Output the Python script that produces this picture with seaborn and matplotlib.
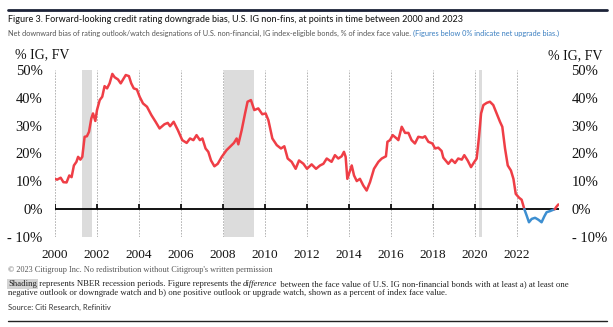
import numpy as np
import pandas as pd
import matplotlib
matplotlib.use("Agg")
import matplotlib.pyplot as plt
import seaborn as sns
from matplotlib.lines import Line2D

# ---------------- data ----------------
years = [2000.00, 2000.10, 2000.27, 2000.40, 2000.55, 2000.68, 2000.79, 2000.90, 2001.02, 2001.10,
         2001.21, 2001.30, 2001.41, 2001.52, 2001.62, 2001.73, 2001.81, 2001.92, 2002.00, 2002.13,
         2002.25, 2002.36, 2002.48, 2002.60, 2002.73, 2002.84, 2003.00, 2003.13, 2003.24, 2003.37,
         2003.52, 2003.63, 2003.75, 2003.90, 2004.03, 2004.19, 2004.38, 2004.59, 2004.79, 2004.98,
         2005.21, 2005.37, 2005.48, 2005.65, 2005.85, 2006.06, 2006.27, 2006.43, 2006.59, 2006.74,
         2006.90, 2007.02, 2007.17, 2007.30, 2007.43, 2007.59, 2007.75, 2007.94, 2008.17, 2008.41,
         2008.52, 2008.65, 2008.73, 2008.89, 2009.05, 2009.17, 2009.33, 2009.49, 2009.68, 2009.87,
         2010.03, 2010.16, 2010.35, 2010.56, 2010.76, 2010.92, 2011.08, 2011.27, 2011.46, 2011.62,
         2011.83, 2012.00, 2012.22, 2012.43, 2012.62, 2012.78, 2012.94, 2013.17, 2013.33, 2013.49,
         2013.65, 2013.76, 2013.84, 2013.92, 2014.05, 2014.13, 2014.24, 2014.37, 2014.52, 2014.68,
         2014.84, 2015.00, 2015.19, 2015.40, 2015.56, 2015.76, 2015.83, 2015.95, 2016.08, 2016.27,
         2016.35, 2016.51, 2016.67, 2016.83, 2016.98, 2017.14, 2017.30, 2017.51, 2017.62, 2017.78,
         2017.97, 2018.10, 2018.25, 2018.41, 2018.49, 2018.60, 2018.73, 2018.89, 2019.05, 2019.20,
         2019.37, 2019.49, 2019.65, 2019.81, 2019.97, 2020.08, 2020.19, 2020.29, 2020.40, 2020.56,
         2020.71, 2020.87, 2021.03, 2021.19, 2021.30, 2021.43, 2021.56, 2021.71, 2021.83, 2021.94,
         2022.10, 2022.22, 2022.35, 2022.46, 2022.57, 2022.70, 2022.86, 2023.02, 2023.17, 2023.30,
         2023.41, 2023.57, 2023.73, 2023.80, 2023.86, 2023.97]
values = [10.9, 10.6, 11.3, 9.7, 9.6, 12.1, 11.5, 15.7, 17.0, 18.8,
          17.8, 18.8, 26.0, 26.2, 27.8, 32.6, 34.4, 31.7, 35.6, 39.2,
          40.4, 44.2, 43.4, 45.2, 48.6, 47.4, 46.6, 45.2, 46.6, 48.2,
          47.8, 45.2, 43.4, 43.0, 40.4, 38.0, 36.8, 33.8, 31.4, 29.0,
          30.5, 31.0, 29.8, 31.4, 28.4, 24.8, 23.8, 25.4, 24.8, 26.6,
          24.8, 25.4, 21.8, 20.6, 17.5, 15.4, 16.3, 18.8, 21.2, 23.0,
          23.8, 25.4, 23.3, 28.4, 34.4, 38.6, 39.2, 35.6, 36.2, 34.1,
          34.4, 32.0, 25.4, 23.0, 21.8, 22.6, 18.2, 17.0, 14.5, 17.5,
          16.3, 14.5, 16.1, 14.5, 15.7, 16.3, 18.2, 17.0, 19.4, 18.2,
          19.0, 20.6, 18.8, 10.9, 13.9, 15.7, 12.1, 10.1, 10.9, 8.5,
          6.7, 9.7, 14.5, 17.0, 18.2, 19.0, 24.2, 24.8, 26.6, 25.4,
          24.8, 29.6, 27.4, 27.4, 24.8, 23.6, 26.0, 25.7, 26.2, 24.2,
          23.6, 21.8, 22.1, 20.9, 18.5, 17.5, 16.3, 17.8, 16.6, 18.2,
          17.8, 19.4, 17.5, 15.1, 17.0, 18.2, 26.0, 34.4, 37.4, 38.2,
          38.6, 37.4, 34.4, 31.4, 29.6, 21.8, 15.7, 13.9, 10.9, 5.5,
          4.1, 3.4, 0.0, -2.3, -4.7, -3.5, -3.1, -3.8, -4.7, -2.6,
          -1.1, -0.7, -0.2, 0.0, 0.7, 1.7]

recession_start = [2001.27, 2008.05, 2020.18]
recession_end = [2001.75, 2009.49, 2020.33]

xtick_years = [2000, 2002, 2004, 2006, 2008, 2010, 2012, 2014, 2016, 2018, 2020, 2022]
xtick_labels = ["2000", "2002", "2004", "2006", "2008", "2010", "2012", "2014", "2016", "2018", "2020", "2022"]
ytick_values = [-10, 0, 10, 20, 30, 40, 50]
ytick_labels = ["- 10%", "0%", "10%", "20%", "30%", "40%", "50%"]

title = ("Figure 3. Forward-looking credit rating downgrade bias, U.S. IG non-fins, "
         "at points in time between 2000 and 2023")
subtitle_a = ("Net downward bias of rating outlook/watch designations of U.S. non-financial, "
              "IG index-eligible bonds, % of index face value. ")
subtitle_b = "(Figures below 0% indicate net upgrade bias.)"
axis_unit = "% IG, FV"
copyright_txt = "\u00a9 2023 Citigroup Inc. No redistribution without Citigroup's written permission"
note_parts = ["Shading", " represents NBER recession periods. Figure represents the ", "difference",
              " between the face value of U.S. IG non-financial bonds with at least a) at least one"]
note_line2 = ("negative outlook or downgrade watch and b) one positive outlook or upgrade watch, "
              "shown as a percent of index face value.")
source_txt = "Source: Citi Research, Refinitiv"

# ---------------- style ----------------
sns.set_style("white")
plt.rcParams["font.family"] = ["Liberation Serif", "DejaVu Serif"]

RED = "#ef3e46"
BLUE = "#3d8fd1"
W, H = 613, 327

fig = plt.figure(figsize=(W / 100, H / 100), dpi=100)
fig.patch.set_facecolor("white")


def fx(px):
    return px / W


def fy(py):
    return 1 - py / H


ax = fig.add_axes([fx(55), fy(237), fx(559) - fx(55), fy(70) - fy(237)])

df = pd.DataFrame({"year": years, "value": values})
red1 = df[df["year"] <= 2022.35]
blue = df[(df["year"] >= 2022.35) & (df["year"] <= 2023.80)]
red2 = df[df["year"] >= 2023.80]

# recession shading
for s, e in zip(recession_start, recession_end):
    ax.axvspan(s, e, color="#dcdcdc", lw=0, zorder=0)

# vertical dotted grid
for t in xtick_years:
    ax.axvline(t, color="#a8a8a8", lw=0.6, ls=(0, (2, 1.5)), zorder=0.5)

# zero line and tick marks
ax.axhline(0, color="black", lw=1.3, zorder=2)
ax.vlines(xtick_years, 0, 1.7, color="black", lw=1.2, zorder=2)

kw = dict(x="year", y="value", estimator=None, sort=False, lw=1.8, ax=ax, zorder=3)
sns.lineplot(data=red1, color=RED, **kw)
sns.lineplot(data=blue, color=BLUE, **kw)
sns.lineplot(data=red2, color=RED, **kw)

ax.set_xlim(2000, 2024)
ax.set_ylim(-10, 50)
ax.set_xticks(xtick_years)
ax.set_xticklabels(xtick_labels)
ax.set_yticks(ytick_values)
ax.set_yticklabels(ytick_labels)
ax.set_xlabel("")
ax.set_ylabel("")
for sp in ax.spines.values():
    sp.set_visible(False)
ax.tick_params(axis="x", length=0, pad=9, labelsize=9.5, colors="#111111")
ax.tick_params(axis="y", length=0, pad=9, labelsize=10.5, colors="#111111",
               labelleft=True, labelright=True)
ax.set_facecolor("white")

# unit labels
fig.text(fx(15), fy(55), axis_unit, fontsize=10, color="#111111", va="center", ha="left")
fig.text(fx(548), fy(56), axis_unit, fontsize=10, color="#111111", va="center", ha="left")

renderer = fig.canvas.get_renderer()


def fit(txt, target_px):
    w = txt.get_window_extent(renderer).width
    txt.set_fontsize(txt.get_fontsize() * target_px / w)


SANS = ["Lato", "DejaVu Sans"]
SERIF = ["Liberation Serif", "DejaVu Serif"]

# top rule
fig.add_artist(Line2D([fx(8), fx(607)], [fy(10), fy(10)], color="#1c2238", lw=2.0))
# title
t_title = fig.text(fx(8), fy(20), title, family=SANS, fontsize=6.5, color="#1a1a1a",
                   va="center", ha="left", fontweight="medium")
fit(t_title, 456)

# subtitle (grey + blue part)
probe = fig.text(fx(8), fy(33), subtitle_a + subtitle_b, family=SANS, fontsize=5.5)
fit(probe, 555)
sub_fs = probe.get_fontsize()
probe.remove()
t_sa = fig.text(fx(8), fy(33), subtitle_a, family=SANS, fontsize=sub_fs, color="#555555",
                va="center", ha="left")
ax.annotate(subtitle_b, xy=(1, 0.5), xycoords=t_sa, va="center", ha="left",
            family=SANS, fontsize=sub_fs, color="#3a7fc1", annotation_clip=False)

# copyright
t_c = fig.text(fx(8), fy(270), copyright_txt, family=SERIF, fontsize=5.5, color="#555555",
               va="center", ha="left")
fit(t_c, 262)

# note lines
probe = fig.text(fx(8), fy(284), "".join(note_parts), family=SERIF, fontsize=6)
fit(probe, 571)
note_fs = probe.get_fontsize()
probe.remove()
prev = fig.text(fx(8), fy(284), note_parts[0], family=SERIF, fontsize=note_fs, color="#222222",
                va="center", ha="left",
                bbox=dict(boxstyle="square,pad=0.1", fc="#d4d4d4", ec="none"))
for i, part in enumerate(note_parts[1:], start=1):
    prev = ax.annotate(part, xy=(1, 0.5), xycoords=prev, va="center", ha="left",
                       family=SERIF, fontsize=note_fs, color="#222222",
                       style="italic" if part == "difference" else "normal",
                       annotation_clip=False)
fig.text(fx(8), fy(293), note_line2, family=SERIF, fontsize=note_fs, color="#222222",
         va="center", ha="left")

# source
t_s = fig.text(fx(8), fy(307), source_txt, family=SANS, fontsize=5.2, color="#333333",
               va="center", ha="left")
fit(t_s, 103)

# bottom rule
fig.add_artist(Line2D([fx(8), fx(607)], [fy(321), fy(321)], color="#222222", lw=1.0))

fig.savefig("out.png", dpi=100, facecolor="white")
